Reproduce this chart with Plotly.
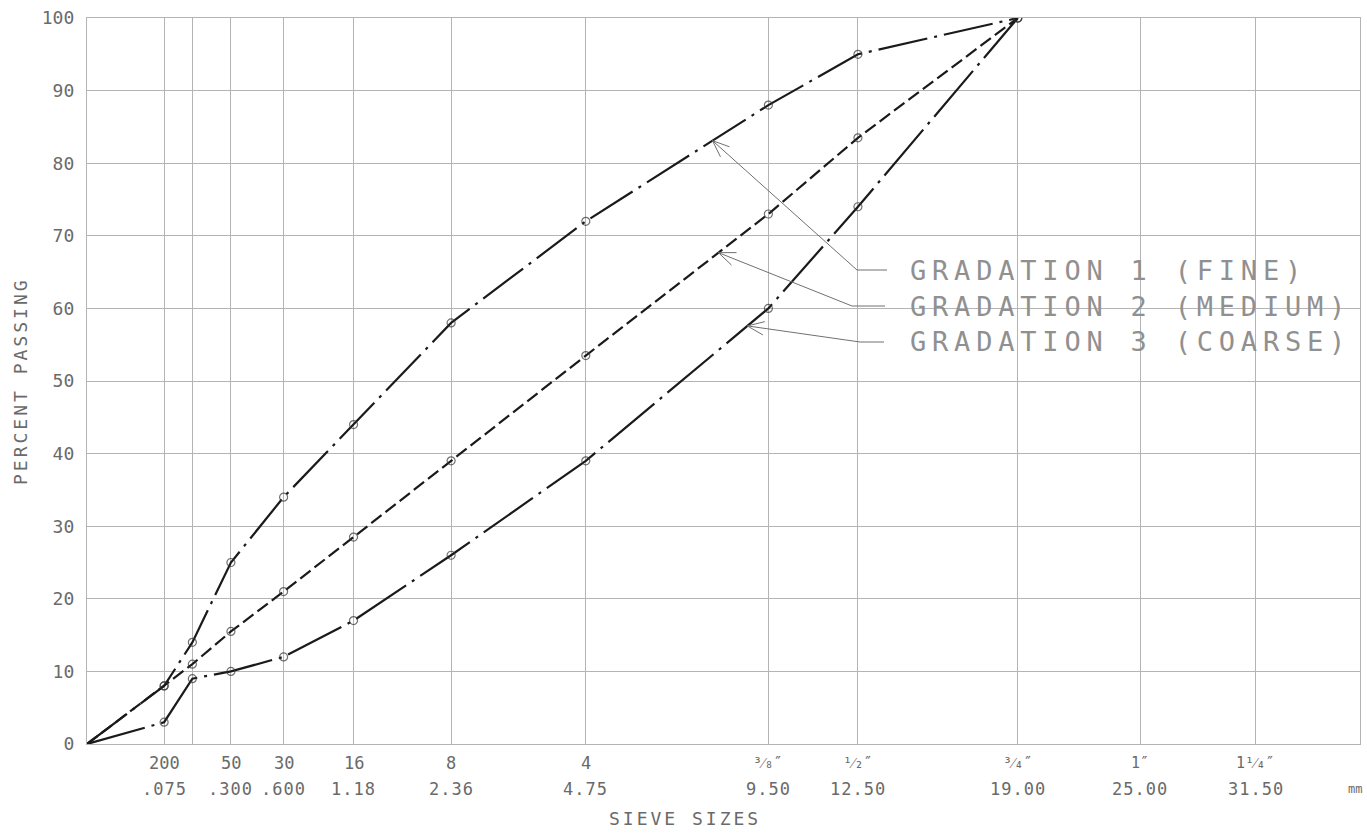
import math
import plotly.graph_objects as go

# ---------------- data ----------------
sieve_mm = [0.0, 0.075, 0.15, 0.3, 0.6, 1.18, 2.36, 4.75, 9.5, 12.5, 19.0]
fine = [0, 8, 14, 25, 34, 44, 58, 72, 88, 95, 100]
medium = [0, 8, 11, 15.5, 21, 28.5, 39, 53.5, 73, 83.5, 100]
coarse = [0, 3, 9, 10, 12, 17, 26, 39, 60, 74, 100]

tick_mm = [0.075, 0.3, 0.6, 1.18, 2.36, 4.75, 9.5, 12.5, 19.0, 25.0, 31.5]
tick_sieve = ["200", "50", "30", "16", "8", "4", "³⁄₈″", "¹⁄₂″", "³⁄₄″", "1″", "1¹⁄₄″"]
tick_mm_text = [".075", ".300", ".600", "1.18", "2.36", "4.75", "9.50", "12.50", "19.00", "25.00", "31.50"]
extra_grid_mm = [0.15]
x_max_mm = 38.1
y_ticks = list(range(0, 101, 10))

labels = ["GRADATION 1 (FINE)", "GRADATION 2 (MEDIUM)", "GRADATION 3 (COARSE)"]

POW = 0.45


def g(v):
    return v ** POW


# ---------------- geometry ----------------
W, H = 1367, 836
ML, MR, MT, MB = 87, 7, 18, 92
PW, PH = W - ML - MR, H - MT - MB
XMAX = g(x_max_mm)
sx = PW / XMAX
sy = PH / 100.0


def px_to_data(px, py):
    return (px - ML) / sx, (H - MB - py) / sy


FONT = "DejaVu Sans Mono"
INK = "#1a1a1a"
GRID = "#b4b4b4"
TXT = "#6a6a6a"

fig = go.Figure()

series = [
    (fine, "50px,7px,3px,7px"),
    (medium, "13px,5px"),
    (coarse, "60px,7px,3px,7px"),
]
for vals, dash in series:
    fig.add_trace(go.Scatter(
        x=[g(v) for v in sieve_mm], y=vals, mode="lines+markers",
        line=dict(color=INK, width=2.2, dash=dash),
        marker=dict(symbol="circle-open", size=[0] + [8] * (len(vals) - 1),
                    color="#333", line=dict(width=1.2, color="#333")),
        showlegend=False, hoverinfo="skip"))

annotations = []
# x tick labels (two rows)
for mm, s_txt, m_txt in zip(tick_mm, tick_sieve, tick_mm_text):
    small = any(c in s_txt for c in "⁄″")
    annotations.append(dict(x=g(mm), y=0, xref="x", yref="paper", text=s_txt,
                            showarrow=False, yanchor="middle", yshift=-19,
                            font=dict(family=FONT, size=15 if small else 17, color=TXT)))
    annotations.append(dict(x=g(mm), y=0, xref="x", yref="paper",
                            text='<span style="letter-spacing:1px">' + m_txt + '</span>',
                            showarrow=False, yanchor="middle", yshift=-45,
                            font=dict(family=FONT, size=17, color=TXT)))
annotations.append(dict(x=(1355 - ML) / PW, y=0, xref="paper", yref="paper",
                        text="mm", showarrow=False, yanchor="middle", yshift=-45,
                        xanchor="center", font=dict(family=FONT, size=12, color=TXT)))

# axis titles
annotations.append(dict(x=(685 - ML) / PW, y=0, xref="paper", yref="paper",
                        text='<span style="letter-spacing:3px">SIEVE SIZES</span>',
                        showarrow=False, yanchor="middle", yshift=-(818 - (H - MB)),
                        font=dict(family=FONT, size=18, color=TXT)))
annotations.append(dict(x=0, y=(H - MB - 381) / PH, xref="paper", yref="paper",
                        text='<span style="letter-spacing:3px">PERCENT PASSING</span>',
                        showarrow=False, textangle=-90, xanchor="center", xshift=-(ML - 20),
                        font=dict(family=FONT, size=18, color=TXT)))

# gradation labels with leader lines
tips = [  # (series, segment start index, fraction along segment)
    (fine, 7, 0.694),
    (medium, 7, 0.727),
    (coarse, 7, 0.885),
]
elbows_px = [(857, 270), (852, 306), (860, 342)]
ends_px = [887, 885, 884]
text_x_px = 908

shapes = []
for (vals, i0, t), (ex, ey), endx, lab in zip(tips, elbows_px, ends_px, labels):
    x0, x1 = g(sieve_mm[i0]), g(sieve_mm[i0 + 1])
    tx = x0 + t * (x1 - x0)
    ty = vals[i0] + t * (vals[i0 + 1] - vals[i0])
    tpx, tpy = ML + tx * sx, H - MB - ty * sy
    exd, eyd = px_to_data(ex, ey)
    endd, _ = px_to_data(endx, ey)
    shapes.append(dict(type="path", xref="x", yref="y",
                       path=f"M {tx},{ty} L {exd},{eyd} L {endd},{eyd}",
                       line=dict(color="#707070", width=1)))
    # open arrow head
    dx, dy = ex - tpx, ey - tpy
    L = math.hypot(dx, dy)
    ux, uy = dx / L, dy / L
    arms = []
    for ang in (math.radians(22), -math.radians(22)):
        rx = ux * math.cos(ang) - uy * math.sin(ang)
        ry = ux * math.sin(ang) + uy * math.cos(ang)
        arms.append(px_to_data(tpx + 18 * rx, tpy + 18 * ry))
    shapes.append(dict(type="path", xref="x", yref="y",
                       path=f"M {arms[0][0]},{arms[0][1]} L {tx},{ty} L {arms[1][0]},{arms[1][1]}",
                       line=dict(color="#707070", width=1)))
    annotations.append(dict(x=(text_x_px - ML) / PW, y=(H - MB - ey) / PH, xref="paper", yref="paper",
                            text='<span style="letter-spacing:5.8px">' + lab + '</span>',
                            showarrow=False, xanchor="left", yanchor="middle",
                            font=dict(family=FONT, size=27, color="#909090")))

fig.update_layout(
    width=W, height=H, autosize=False,
    margin=dict(l=ML, r=MR, t=MT, b=MB),
    paper_bgcolor="white", plot_bgcolor="white",
    xaxis=dict(range=[0, XMAX], tickvals=[g(v) for v in tick_mm + extra_grid_mm],
               showticklabels=False, ticks="", showgrid=True, gridcolor=GRID, gridwidth=1.3,
               zeroline=False, showline=True, linecolor=GRID, linewidth=1.3, mirror=True),
    yaxis=dict(range=[0, 100], tickvals=y_ticks, ticks="", showgrid=True, gridcolor=GRID,
               gridwidth=1.3, zeroline=False, showline=True, linecolor=GRID, linewidth=1.3,
               mirror=True, ticklabelstandoff=8,
               tickfont=dict(family=FONT, size=18, color=TXT)),
    annotations=annotations, shapes=shapes,
)

fig.write_html("out.html")
